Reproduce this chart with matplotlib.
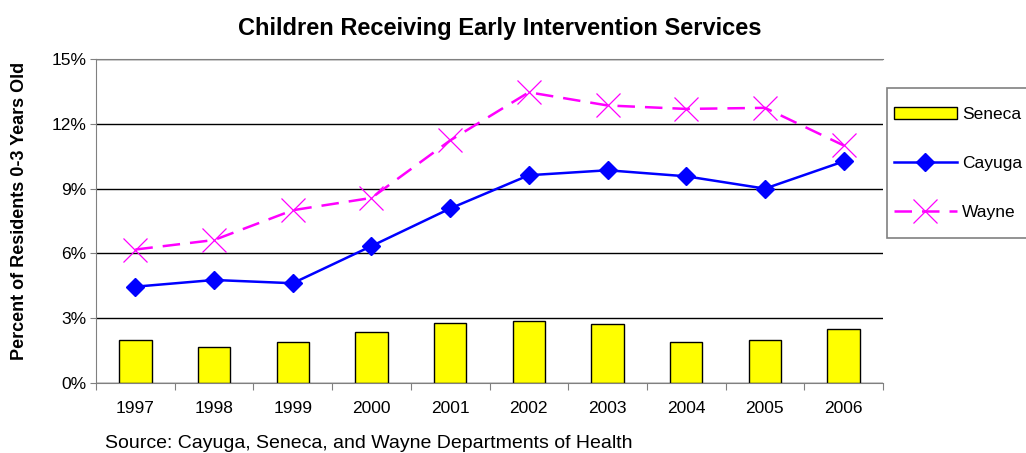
import matplotlib.pyplot as plt
import numpy as np
from matplotlib.ticker import FuncFormatter
from matplotlib.patches import Rectangle

plt.rcParams['font.family'] = ['Liberation Sans', 'DejaVu Sans']

years = ['1997', '1998', '1999', '2000', '2001', '2002', '2003', '2004', '2005', '2006']
seneca = [1.97, 1.66, 1.88, 2.38, 2.77, 2.88, 2.72, 1.88, 2.0, 2.49]
cayuga = [4.46, 4.77, 4.62, 6.34, 8.08, 9.62, 9.85, 9.57, 9.0, 10.26]
wayne = [6.18, 6.62, 8.0, 8.57, 11.23, 13.46, 12.85, 12.69, 12.74, 11.0]

fig = plt.figure(figsize=(10.26, 4.53), dpi=100)
ax = fig.add_axes([0.0936, 0.1545, 0.767, 0.7152])

x = np.arange(len(years))
ax.bar(x, seneca, width=0.41, color='#ffff00', edgecolor='black', linewidth=1, label='Seneca', zorder=2)
ax.plot(x, cayuga, color='#0000ff', lw=1.8, marker='D', markersize=9, label='Cayuga', zorder=3)
ax.plot(x, wayne, color='#ff00ff', lw=1.8, ls=(0, (7, 4)), marker='x', markersize=17,
        markeredgewidth=0.9, label='Wayne', zorder=3)

ax.set_xlim(-0.5, len(years) - 0.5)
ax.set_ylim(0, 15)
ax.set_yticks([0, 3, 6, 9, 12, 15])
ax.yaxis.set_major_formatter(FuncFormatter(lambda v, p: f'{v:.0f}%'))
ax.yaxis.grid(True, color='black', lw=1)
ax.set_axisbelow(True)

# category labels centred, tick marks between categories
ax.set_xticks(np.arange(-0.5, len(years), 1))
ax.set_xticklabels([])
ax.set_xticks(x, minor=True)
ax.set_xticklabels(years, minor=True)
ax.tick_params(axis='x', which='minor', length=0, labelsize=12.5, pad=13)
ax.tick_params(axis='x', which='major', length=5, color='#808080')
ax.tick_params(axis='y', length=4, color='#808080', labelsize=12.5, pad=3)

ax.spines['right'].set_visible(False)
for s in ['left', 'bottom', 'top']:
    ax.spines[s].set_color('#808080')

ax.set_ylabel('Percent of Residents 0-3 Years Old', fontsize=13, fontweight='bold')
ax.yaxis.set_label_coords(-0.086, 0.531)
fig.text(0.487, 0.938, 'Children Receiving Early Intervention Services', fontsize=17,
         fontweight='bold', ha='center', va='center')
fig.text(0.102, 0.012, 'Source: Cayuga, Seneca, and Wayne Departments of Health', fontsize=14)

# legend box runs past the right edge, as in the original
fig.patches.append(Rectangle((887 / 1026, 1 - 238 / 453), 0.2, 150 / 453, transform=fig.transFigure,
                             facecolor='white', edgecolor='#808080', lw=1.2, zorder=1))
handles, labels = ax.get_legend_handles_labels()
order = [labels.index(n) for n in ['Seneca', 'Cayuga', 'Wayne']]
leg = fig.legend([handles[i] for i in order], [labels[i] for i in order],
                 loc='upper left', bbox_to_anchor=(894 / 1026, 1 - 107 / 453), fontsize=12.5,
                 frameon=False, labelspacing=1.95, handlelength=3.6,
                 handletextpad=0.3, borderpad=0, borderaxespad=0)

fig.savefig('out.png', dpi=100)
